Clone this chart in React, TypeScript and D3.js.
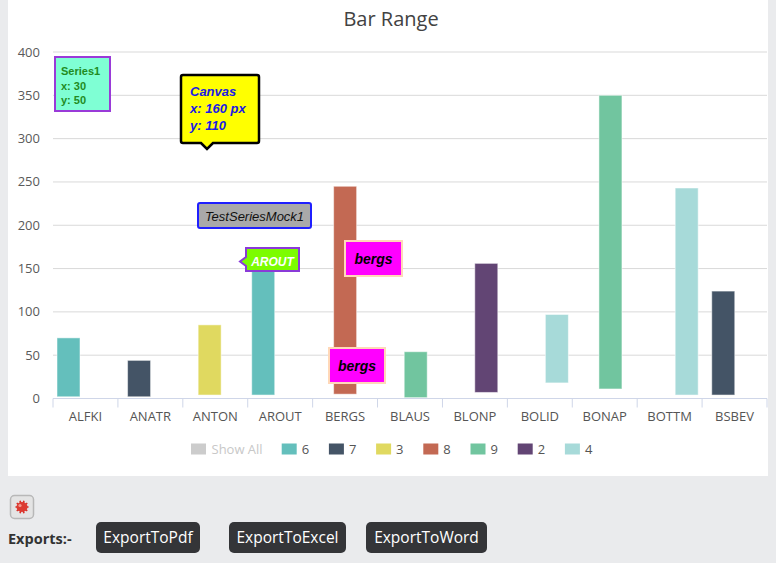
import React from "react";
import * as d3 from "d3";

// chart data
const categories = ["ALFKI", "ANATR", "ANTON", "AROUT", "BERGS", "BLAUS", "BLONP", "BOLID", "BONAP", "BOTTM", "BSBEV"];
const seriesNames = ["6", "7", "3", "8", "9", "2", "4"];
const seriesColors = ["#64bfbc", "#445466", "#e0d960", "#c36953", "#71c59f", "#624574", "#a7dad9"];
const pointSeries = ["6", "7", "3", "6", "8", "9", "2", "4", "9", "4", "7"];
const lowValues = [2, 2, 4, 4, 5, 1, 7, 18, 11, 4, 4];
const highValues = [70, 44, 85, 150, 245, 54, 156, 97, 350, 243, 124];
const yTicks = [0, 50, 100, 150, 200, 250, 300, 350, 400];
const exportButtons = ["ExportToPdf", "ExportToExcel", "ExportToWord"];

const W = 776;
const H = 563;
const UI_FONT = "'Open Sans', 'Noto Sans', sans-serif";
const ANN_FONT = "'Liberation Sans', Arial, sans-serif";

const App: React.FC = () => {
  const plot = { left: 53, right: 767, top: 52, bottom: 398.5 };

  const x = d3.scaleBand<string>().domain(categories).range([plot.left, plot.right]).padding(0);
  // position of each series inside a category (grouped columns)
  const xSeries = d3.scalePoint<string>().domain(seriesNames).range([4, 38]);
  const barW = 23;
  const y = d3.scaleLinear().domain([0, 400]).range([plot.bottom, plot.top]);
  const color = d3.scaleOrdinal<string, string>().domain(seriesNames).range(seriesColors);

  const bars = categories.map((c, i) => ({
    cat: c,
    series: pointSeries[i],
    low: lowValues[i],
    high: highValues[i],
  }));

  // legend layout
  const legendY = 449;
  const legendStart = 191;
  const legendStep = 47.2;

  // export buttons
  const btnX = d3.scaleOrdinal<string, number>().domain(exportButtons).range([96, 229, 366]);
  const btnW = d3.scaleOrdinal<string, number>().domain(exportButtons).range([104, 117, 121]);

  const bugSpikes = d3.range(10).map(k => (k / 10) * Math.PI * 2);

  return (
    <svg
      width={W}
      height={H}
      style={{ position: "absolute", left: 0, top: 0, display: "block", background: "#eaebed" }}
    >
      {/* chart panel */}
      <rect x={8} y={0} width={760} height={476} fill="#ffffff" />

      {/* title */}
      <text x={391} y={26} textAnchor="middle" fontFamily={UI_FONT} fontSize={20} fill="#424242">
        Bar Range
      </text>

      {/* gridlines + y labels */}
      {yTicks.map(t => (
        <g key={t}>
          {t > 0 && (
            <line x1={plot.left} x2={plot.right} y1={y(t)} y2={y(t)} stroke="#d9d9d9" strokeWidth={1} />
          )}
          <text x={40} y={y(t) + 4.5} textAnchor="end" fontFamily={UI_FONT} fontSize={13} fill="#5a5a5a">
            {t}
          </text>
        </g>
      ))}

      {/* bars */}
      {bars.map(b => (
        <rect
          key={b.cat}
          x={(x(b.cat) as number) + (xSeries(b.series) as number)}
          y={y(b.high)}
          width={barW}
          height={y(b.low) - y(b.high)}
          fill={color(b.series)}
          stroke="#ffffff"
          strokeOpacity={0.5}
          strokeWidth={1}
        />
      ))}

      {/* x axis */}
      <line x1={plot.left} x2={plot.right} y1={plot.bottom} y2={plot.bottom} stroke="#cfd6e8" strokeWidth={1} />
      {[...categories, null].map((c, i) => {
        const tx = c ? (x(c) as number) : plot.right;
        return <line key={i} x1={tx} x2={tx} y1={plot.bottom} y2={plot.bottom + 9} stroke="#cfd6e8" strokeWidth={1} />;
      })}
      {categories.map(c => (
        <text
          key={c}
          x={(x(c) as number) + x.bandwidth() / 2}
          y={421}
          textAnchor="middle"
          fontFamily={UI_FONT}
          fontSize={13}
          fill="#555555"
        >
          {c}
        </text>
      ))}

      {/* legend */}
      <rect x={legendStart} y={legendY - 5.5} width={15} height={11} fill="#cccccc" />
      <text x={legendStart + 20.5} y={legendY + 5} fontFamily={UI_FONT} fontSize={13} fill="#c8c8c8">
        Show All
      </text>
      {seriesNames.map((s, i) => {
        const lx = 281.7 + i * legendStep;
        return (
          <g key={s}>
            <rect x={lx} y={legendY - 5.5} width={15} height={11} fill={color(s)} />
            <text x={lx + 20} y={legendY + 5} fontFamily={UI_FONT} fontSize={13} fill="#555555">
              {s}
            </text>
          </g>
        );
      })}

      {/* annotation: Series1 */}
      <rect x={55} y={57} width={55} height={54} fill="#7fffd4" stroke="#9a3ad8" strokeWidth={2} />
      <g fontFamily={ANN_FONT} fontSize={11} fontWeight="bold" fill="#228b22">
        <text x={61} y={75}>Series1</text>
        <text x={61} y={90}>x: 30</text>
        <text x={61} y={104}>y: 50</text>
      </g>

      {/* annotation: Canvas callout */}
      <path
        d="M183,75 H257 Q259,75 259,77 V141 Q259,143 257,143 H213 L207,149 L201,143 H183 Q181,143 181,141 V77 Q181,75 183,75 Z"
        fill="#ffff00"
        stroke="#000000"
        strokeWidth={2.5}
      />
      <g fontFamily={ANN_FONT} fontSize={13} fontWeight="bold" fontStyle="italic" fill="#1a1ae6">
        <text x={190} y={96}>Canvas</text>
        <text x={190} y={113}>x: 160 px</text>
        <text x={190} y={130}>y: 110</text>
      </g>

      {/* annotation: TestSeriesMock1 */}
      <rect x={198} y={203} width={113} height={25} rx={2} fill="#a9a9a9" stroke="#1f1fff" strokeWidth={2} />
      <text x={254.5} y={220.5} textAnchor="middle" fontFamily={ANN_FONT} fontSize={13} fontStyle="italic" fill="#111111">
        TestSeriesMock1
      </text>

      {/* annotation: AROUT data label */}
      <path
        d="M246,248 H299 V271 H246 V266 L240,261.5 L246,257 Z"
        fill="#7cfc00"
        stroke="#8a3ad8"
        strokeWidth={2}
      />
      <text x={272.5} y={265.5} textAnchor="middle" fontFamily={ANN_FONT} fontSize={12} fontWeight="bold" fontStyle="italic" fill="#ffffff">
        AROUT
      </text>

      {/* annotation: bergs labels */}
      {[
        { bx: 345, by: 241, bw: 57, bh: 35 },
        { bx: 329, by: 348, bw: 56, bh: 35 },
      ].map((l, i) => (
        <g key={i}>
          <rect x={l.bx} y={l.by} width={l.bw} height={l.bh} fill="#ff00ff" stroke="#ffd8b8" strokeWidth={2} />
          <text
            x={l.bx + l.bw / 2}
            y={l.by + l.bh / 2 + 5}
            textAnchor="middle"
            fontFamily={ANN_FONT}
            fontSize={14}
            fontWeight="bold"
            fontStyle="italic"
            fill="#000000"
          >
            bergs
          </text>
        </g>
      ))}

      {/* bug icon */}
      <rect x={10.5} y={495.5} width={23} height={23} rx={4} fill="#e4e4e4" stroke="#b8b8b8" strokeWidth={1.5} />
      <g transform="translate(22,507)">
        {bugSpikes.map((a, i) => (
          <line key={i} x1={0} y1={0} x2={Math.cos(a) * 6.5} y2={Math.sin(a) * 6.5} stroke="#d9302a" strokeWidth={1.6} />
        ))}
        <ellipse rx={5.5} ry={5} fill="#dc3b31" />
        <circle cx={-2} cy={-1.5} r={1.6} fill="#f29a90" />
      </g>

      {/* exports */}
      <text x={8} y={544} fontFamily={UI_FONT} fontSize={14.5} fontWeight="bold" fill="#333333">
        Exports:-
      </text>
      {exportButtons.map(b => (
        <g key={b}>
          <rect x={btnX(b)} y={522} width={btnW(b)} height={31} rx={5} fill="#343538" />
          <text
            x={btnX(b) + btnW(b) / 2}
            y={543}
            textAnchor="middle"
            fontFamily={UI_FONT}
            fontSize={15.5}
            fill="#ffffff"
          >
            {b}
          </text>
        </g>
      ))}
    </svg>
  );
};

export default App;
